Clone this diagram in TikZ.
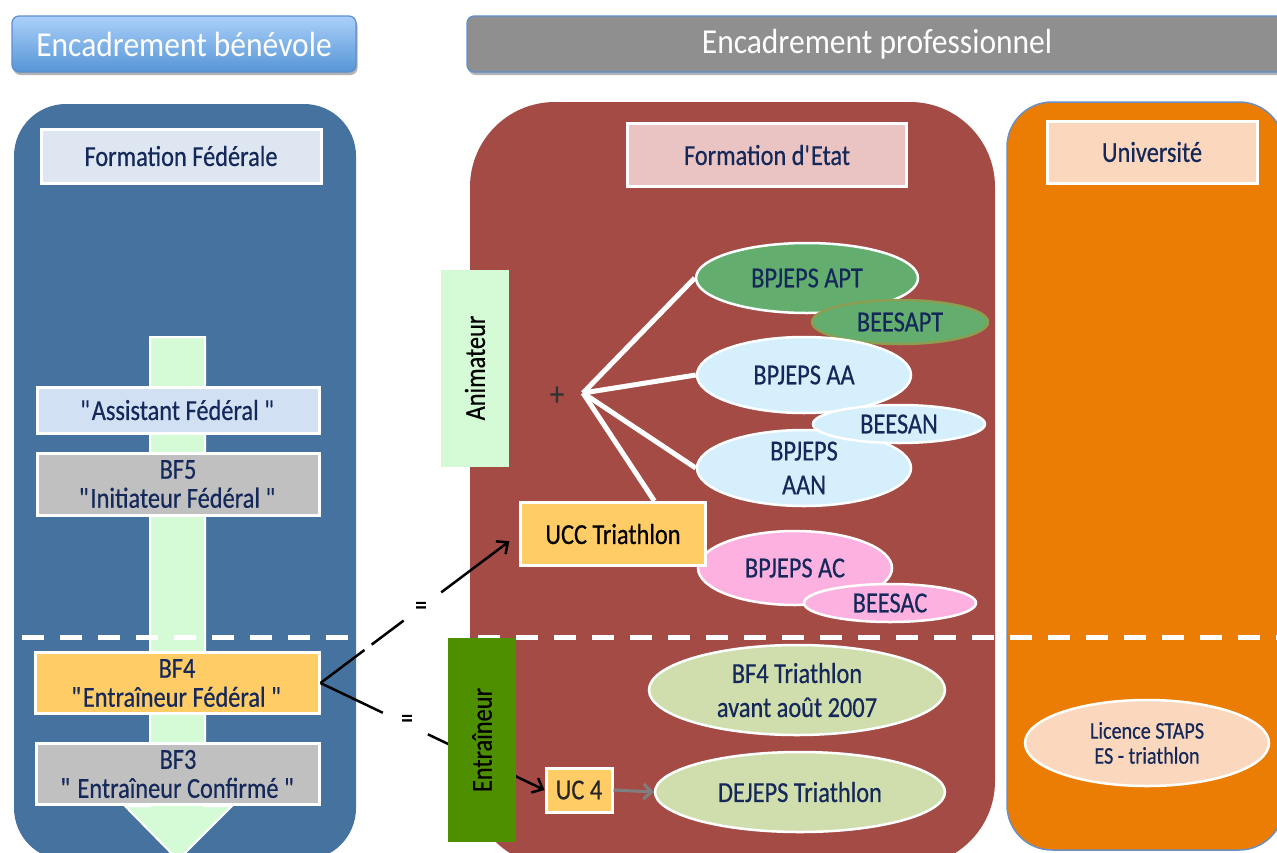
\documentclass[tikz,border=0pt]{standalone}
\usepackage{fontspec}
\setmainfont{Carlito}[FakeStretch=0.84,FakeBold=0.5]
\newfontfamily\hdfont{Carlito}[FakeStretch=0.9]
\newcommand{\straightq}{\textquotedbl}
\usetikzlibrary{shapes.geometric,arrows.meta,calc,shadows}
\definecolor{navy}{HTML}{14285A}
\definecolor{hdrtop}{HTML}{AAD0FA}
\definecolor{hdrbot}{HTML}{5795D6}
\definecolor{hdrborder}{HTML}{5B8FCF}
\definecolor{hdrgray}{HTML}{8F8F8F}
\definecolor{pblue}{HTML}{4672A0}
\definecolor{pred}{HTML}{A54B45}
\definecolor{porange}{HTML}{EB7D04}
\definecolor{pborder}{HTML}{6A8FC4}
\definecolor{ffbox}{HTML}{DDE6F1}
\definecolor{asbox}{HTML}{D1E1F3}
\definecolor{graybox}{HTML}{C0C0C0}
\definecolor{yellowbox}{HTML}{FFCC66}
\definecolor{febox}{HTML}{EAC4C3}
\definecolor{univbox}{HTML}{FBD8BD}
\definecolor{animbox}{HTML}{D5FAD6}
\definecolor{aptgreen}{HTML}{63AE6E}
\definecolor{aptolive}{HTML}{8C9C50}
\definecolor{lblue}{HTML}{D6EFFC}
\definecolor{lpink}{HTML}{FDB1E0}
\definecolor{pgreen}{HTML}{D0DDAC}
\definecolor{entgreen}{HTML}{4E8F00}
\definecolor{arrowgray}{HTML}{7F7F7F}
\pgfdeclarelayer{bg}
\pgfdeclarelayer{mid}
\pgfsetlayers{bg,mid,main}
\begin{document}
\begin{tikzpicture}[x=1pt,y=-1pt,
  box/.style={draw=white, line width=3pt, inner sep=0pt, align=center, text=navy,
    font=\fontsize{29}{29}\selectfont},
  ell/.style={ellipse, draw=white, line width=2.5pt, inner sep=0pt, align=center, text=navy,
    font=\fontsize{29}{34}\selectfont},
  hdr/.style={rounded corners=7pt, draw=hdrborder, line width=1.2pt, text=white, inner sep=0pt,
    font=\hdfont\fontsize{35}{38}\selectfont,
    drop shadow={shadow xshift=1.5pt, shadow yshift=-3pt, opacity=0.3, fill=black}},
  wline/.style={white, line width=5pt},
  conn/.style={black, line width=2.5pt},
  barb/.style={-{Straight Barb[length=9pt,width=16pt]}},
  lbl/.style={text=black, font=\fontsize{28}{28}\selectfont, inner sep=0pt},
]
\useasboundingbox (0,0) rectangle (1277,852);
\clip (0,0) rectangle (1277,852);

\begin{pgfonlayer}{bg}
% panels
\fill[pblue, rounded corners=52pt] (14,104) rectangle (356,860);
\fill[pred, rounded corners=85pt] (470,102) rectangle (995,866);
\filldraw[porange, draw=pborder, line width=1.5pt, rounded corners=45pt] (1007,102) rectangle (1284,850);
% green progression arrow
\filldraw[fill=animbox, draw=white, line width=2pt]
  (150,337) -- (205,337) -- (205,806) -- (232,806) -- (178,860) -- (125,806) -- (150,806) -- cycle;
% divider
\draw[white, line width=5pt, dash pattern=on 22pt off 16pt] (22,637) -- (1277,637);
\end{pgfonlayer}

% headers
\node[hdr, top color=hdrtop, bottom color=hdrbot, minimum width=344pt, minimum height=56pt] (hb) at (184,44) {Encadrement bénévole};
\node[hdr, fill=hdrgray, minimum width=820pt, minimum height=56pt] (hp) at (877,44) {Encadrement professionnel};

% left column
\node[box, fill=ffbox, minimum width=280pt, minimum height=54pt] (ff) at (181,156) {Formation Fédérale};
\node[box, fill=asbox, minimum width=282pt, minimum height=46pt] (as) at (178,410) {\straightq Assistant Fédéral \straightq};
\node[box, fill=graybox, minimum width=282pt, minimum height=62pt] (bf5) at (178,484) {BF5\\\straightq Initiateur Fédéral \straightq};
\node[box, fill=yellowbox, minimum width=284pt, minimum height=61pt] (bf4) at (177,683) {BF4\\\straightq Entraîneur Fédéral \straightq};
\node[box, fill=graybox, minimum width=283pt, minimum height=61pt] (bf3) at (178,774) {BF3\\\straightq{} Entraîneur Confirmé \straightq};

% middle column
\node[box, fill=febox, minimum width=279pt, minimum height=63pt] (fe) at (767,155) {Formation d\textquotesingle Etat};
\node[box, fill=animbox, text=black, draw=none, rotate=90, minimum width=197pt, minimum height=68pt] (anim) at (475,368) {Animateur};

\coordinate (j) at (583,393);
\node[ell, fill=aptgreen, minimum width=222pt, minimum height=70pt] (apt) at (807,278) {BPJEPS APT};
\node[ell, fill=aptgreen, draw=aptolive, minimum width=176pt, minimum height=44pt] (beesapt) at (900,322) {BEESAPT};
\node[ell, fill=lblue, minimum width=214pt, minimum height=76pt] (aa) at (804,375) {BPJEPS AA};
\node[ell, fill=lblue, minimum width=214pt, minimum height=76pt] (aan) at (804,468) {BPJEPS\\AAN};
\node[ell, fill=lblue, minimum width=172pt, minimum height=38pt] (beesan) at (899,424) {BEESAN};
\node[ell, fill=lpink, minimum width=194pt, minimum height=74pt] (ac) at (795,568) {BPJEPS AC};
\node[ell, fill=lpink, minimum width=172pt, minimum height=38pt] (beesac) at (890,603) {BEESAC};
\node[box, fill=yellowbox, text=black, minimum width=185pt, minimum height=63pt] (ucc) at (613,534) {UCC Triathlon};
\node[lbl, text=black!80, font=\fontsize{34}{34}\selectfont] (plus) at (557,396) {+};

% white links from "+"
\begin{pgfonlayer}{mid}
\draw[wline] (j) -- (apt.west);
\draw[wline] (j) -- (aa.west);
\draw[wline] (j) -- (aan.west);
\draw[wline] (j) -- ($(ucc.north west)!0.72!(ucc.north east)$);
\end{pgfonlayer}

% lower middle
\node[ell, fill=pgreen, minimum width=296pt, minimum height=90pt] (bf4t) at (797,690) {BF4 Triathlon\\avant août 2007};
\node[ell, fill=pgreen, minimum width=290pt, minimum height=80pt] (dej) at (800,792) {DEJEPS Triathlon};
\node[box, fill=yellowbox, text=black!85, minimum width=66pt, minimum height=44pt] (uc4) at (579,790) {UC 4};

% right column
\node[box, fill=univbox, minimum width=210pt, minimum height=62pt] (univ) at (1152,152) {Université};
\node[ell, fill=univbox, font=\fontsize{24}{25}\selectfont, minimum width=244pt, minimum height=86pt] (lic) at (1147,743) {Licence STAPS\\ES - triathlon};

% connectors
\draw[conn, barb, dash pattern=on 55pt off 9pt on 40pt off 47pt on 400pt, shorten >=12pt] (bf4.east) -- (ucc.west);
\draw[conn, barb, dash pattern=on 69pt off 50pt on 22pt off 0pt on 400pt] (bf4.east) -- (uc4.west);
\draw[arrowgray, line width=3pt, -{Straight Barb[length=8pt,width=15pt]}] (uc4.east) -- (dej.west);

\node[box, fill=entgreen, text=black, draw=none, rotate=90, minimum width=204pt, minimum height=68pt] (ent) at (482,740) {Entraîneur};

\node[lbl] (eq1) at (421,608) {=};
\node[lbl] (eq2) at (407,721) {=};
\end{tikzpicture}
\end{document}
